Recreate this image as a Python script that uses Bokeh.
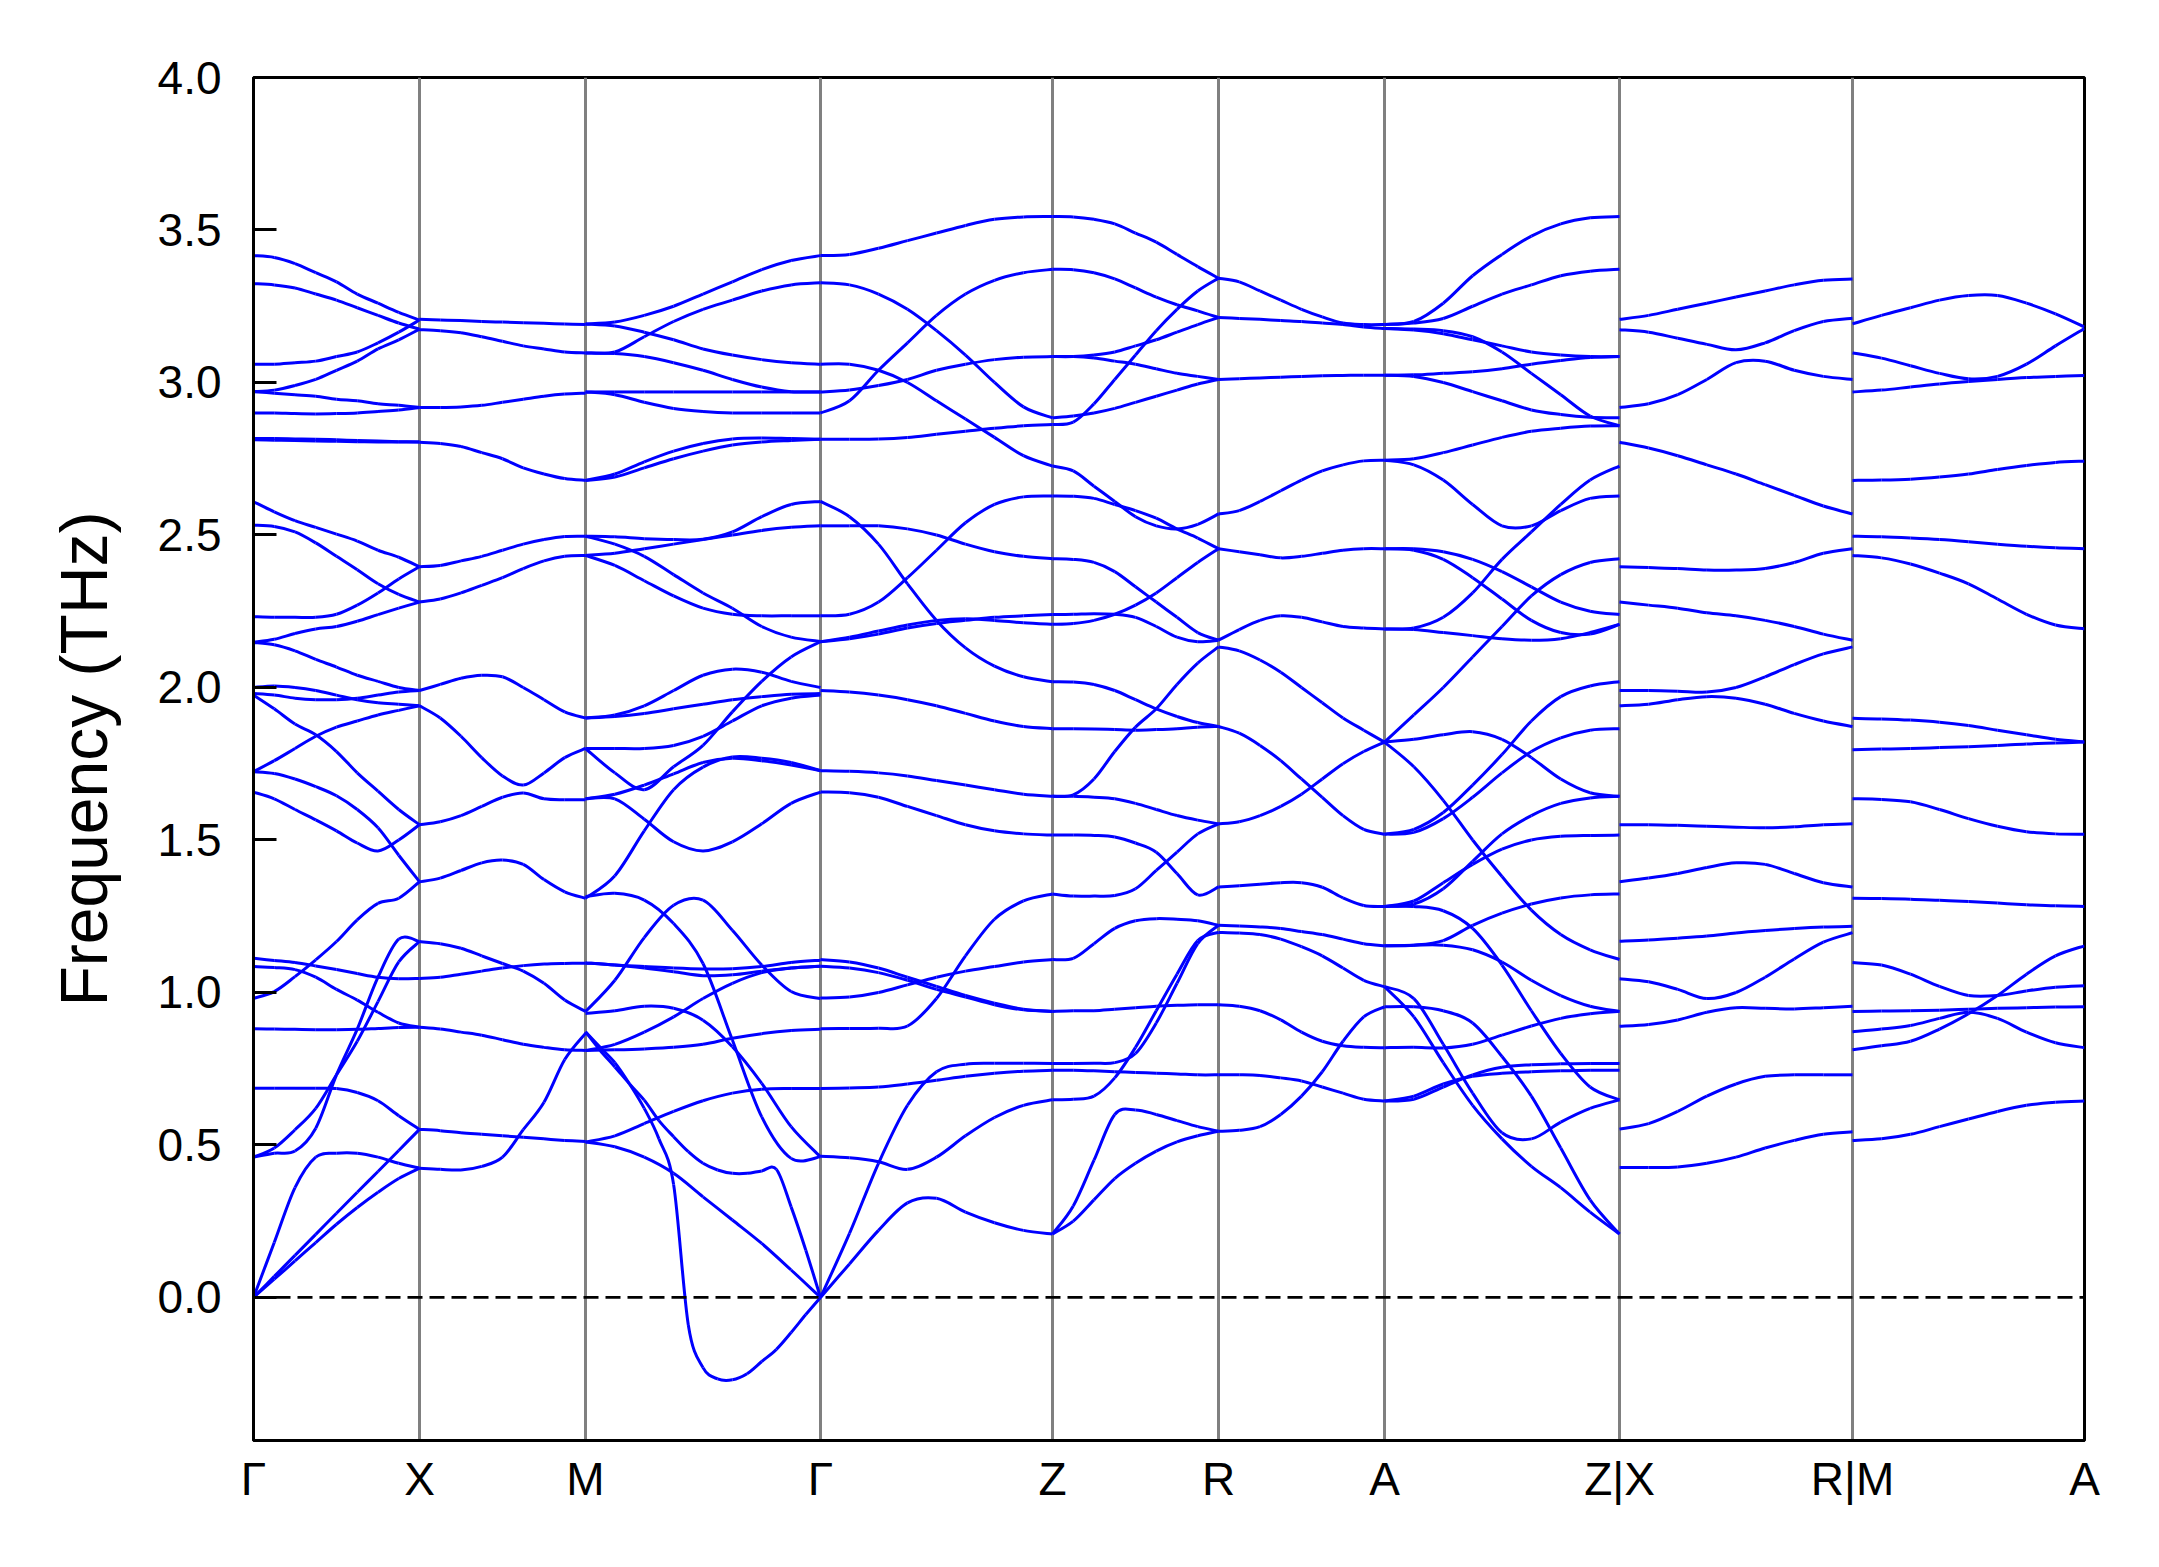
import numpy as np
from bokeh.plotting import figure
from bokeh.models import Range1d, FixedTicker, Span, PrintfTickFormatter, ColumnDataSource
from bokeh.embed import file_html
from bokeh.resources import INLINE

# High-symmetry path
kpoint_labels = ["Γ", "X", "M", "Γ", "Z", "R", "A", "Z|X", "R|M", "A"]
segment_lengths = [166, 166, 235, 232, 166, 166, 235, 233, 232]

# Phonon branches (THz), sampled uniformly along each path segment
bands_G_X = [
    [3.416, 3.41, 3.39, 3.36, 3.33, 3.29, 3.26, 3.23, 3.205],
    [3.324, 3.32, 3.31, 3.29, 3.27, 3.245, 3.22, 3.195, 3.175],
    [3.06, 3.06, 3.065, 3.07, 3.085, 3.10, 3.13, 3.165, 3.205],
    [2.97, 2.975, 2.99, 3.01, 3.04, 3.07, 3.11, 3.14, 3.175],
    [2.97, 2.965, 2.96, 2.955, 2.945, 2.94, 2.93, 2.925, 2.918],
    [2.90, 2.90, 2.898, 2.897, 2.898, 2.90, 2.905, 2.91, 2.918],
    [2.816, 2.816, 2.815, 2.814, 2.812, 2.81, 2.808, 2.806, 2.805],
    [2.812, 2.811, 2.81, 2.808, 2.807, 2.806, 2.805, 2.805, 2.805],
    [2.609, 2.576, 2.547, 2.525, 2.503, 2.48, 2.45, 2.427, 2.396],
    [2.532, 2.528, 2.51, 2.474, 2.43, 2.386, 2.34, 2.305, 2.28],
    [2.232, 2.23, 2.23, 2.23, 2.24, 2.27, 2.31, 2.356, 2.396],
    [2.148, 2.158, 2.177, 2.192, 2.20, 2.217, 2.239, 2.26, 2.28],
    [2.148, 2.14, 2.12, 2.092, 2.067, 2.04, 2.02, 2.0, 1.99],
    [2.0, 2.005, 2.0, 1.99, 1.975, 1.96, 1.95, 1.945, 1.94],
    [1.98, 1.975, 1.965, 1.96, 1.96, 1.965, 1.975, 1.985, 1.99],
    [1.975, 1.93, 1.88, 1.845, 1.79, 1.72, 1.66, 1.60, 1.55],
    [1.724, 1.76, 1.80, 1.84, 1.87, 1.89, 1.91, 1.925, 1.94],
    [1.724, 1.718, 1.70, 1.675, 1.645, 1.60, 1.54, 1.45, 1.363],
    [1.657, 1.635, 1.60, 1.566, 1.53, 1.49, 1.464, 1.50, 1.55],
    [0.981, 1.003, 1.052, 1.107, 1.167, 1.238, 1.292, 1.309, 1.363],
    [0.46, 0.473, 0.48, 0.555, 0.73, 0.88, 1.05, 1.175, 1.167],
    [0.46, 0.49, 0.55, 0.62, 0.73, 0.84, 0.97, 1.10, 1.167],
    [1.112, 1.105, 1.098, 1.087, 1.075, 1.062, 1.05, 1.045, 1.046],
    [1.085, 1.082, 1.075, 1.05, 1.01, 0.975, 0.935, 0.90, 0.886],
    [0.881, 0.88, 0.879, 0.878, 0.878, 0.879, 0.882, 0.885, 0.886],
    [0.686, 0.686, 0.686, 0.686, 0.685, 0.672, 0.645, 0.596, 0.551],
    [0.0, 0.18, 0.36, 0.46, 0.473, 0.473, 0.46, 0.44, 0.424],
    [0.0, 0.069, 0.138, 0.207, 0.276, 0.345, 0.413, 0.482, 0.551],
    [0.0, 0.06, 0.12, 0.18, 0.24, 0.295, 0.345, 0.39, 0.424],
]

bands_X_M = [
    [3.207, 3.205, 3.203, 3.20, 3.198, 3.196, 3.194, 3.192, 3.19],
    [3.173, 3.17, 3.163, 3.15, 3.135, 3.12, 3.11, 3.10, 3.097],
    [2.918, 2.918, 2.92, 2.925, 2.935, 2.945, 2.955, 2.962, 2.965],
    [2.804, 2.80, 2.79, 2.77, 2.75, 2.72, 2.70, 2.685, 2.679],
    [2.396, 2.40, 2.415, 2.43, 2.45, 2.47, 2.485, 2.495, 2.496],
    [2.28, 2.29, 2.31, 2.335, 2.36, 2.39, 2.415, 2.43, 2.433],
    [1.99, 2.01, 2.03, 2.04, 2.035, 2.0, 1.96, 1.92, 1.90],
    [1.94, 1.90, 1.84, 1.77, 1.71, 1.68, 1.72, 1.77, 1.80],
    [1.55, 1.56, 1.58, 1.61, 1.64, 1.654, 1.635, 1.632, 1.632],
    [1.363, 1.375, 1.40, 1.425, 1.434, 1.42, 1.37, 1.33, 1.309],
    [1.167, 1.16, 1.145, 1.12, 1.095, 1.07, 1.03, 0.975, 0.938],
    [1.046, 1.05, 1.06, 1.07, 1.08, 1.088, 1.093, 1.095, 1.096],
    [0.886, 0.88, 0.87, 0.86, 0.845, 0.83, 0.82, 0.812, 0.81],
    [0.551, 0.547, 0.54, 0.535, 0.53, 0.525, 0.52, 0.515, 0.511],
    [0.424, 0.42, 0.418, 0.43, 0.46, 0.55, 0.64, 0.78, 0.866],
]

bands_M_G = [
    [3.192, 3.198, 3.22, 3.25, 3.29, 3.33, 3.37, 3.40, 3.416],
    [3.192, 3.185, 3.165, 3.14, 3.11, 3.09, 3.075, 3.065, 3.06],
    [3.097, 3.10, 3.15, 3.20, 3.24, 3.27, 3.30, 3.32, 3.327],
    [3.097, 3.095, 3.085, 3.065, 3.04, 3.01, 2.985, 2.97, 2.969],
    [2.969, 2.969, 2.969, 2.969, 2.969, 2.969, 2.969, 2.969, 2.969],
    [2.969, 2.96, 2.935, 2.915, 2.905, 2.90, 2.90, 2.90, 2.90],
    [2.679, 2.70, 2.74, 2.775, 2.80, 2.815, 2.818, 2.816, 2.814],
    [2.679, 2.69, 2.72, 2.75, 2.775, 2.795, 2.805, 2.81, 2.814],
    [2.496, 2.494, 2.488, 2.485, 2.486, 2.51, 2.56, 2.60, 2.61],
    [2.433, 2.44, 2.455, 2.47, 2.485, 2.50, 2.515, 2.525, 2.53],
    [2.496, 2.47, 2.43, 2.37, 2.31, 2.26, 2.20, 2.165, 2.151],
    [2.433, 2.40, 2.35, 2.30, 2.26, 2.24, 2.235, 2.235, 2.235],
    [1.90, 1.91, 1.94, 1.99, 2.04, 2.06, 2.05, 2.02, 2.0],
    [1.90, 1.905, 1.915, 1.93, 1.945, 1.96, 1.97, 1.978, 1.98],
    [1.80, 1.80, 1.80, 1.81, 1.84, 1.89, 1.94, 1.965, 1.975],
    [1.80, 1.72, 1.665, 1.74, 1.81, 1.92, 2.02, 2.10, 2.15],
    [1.635, 1.635, 1.568, 1.494, 1.464, 1.494, 1.553, 1.62, 1.657],
    [1.635, 1.65, 1.68, 1.717, 1.754, 1.768, 1.76, 1.746, 1.727],
    [1.309, 1.383, 1.53, 1.665, 1.739, 1.772, 1.768, 1.754, 1.727],
    [1.314, 1.325, 1.303, 1.226, 1.095, 0.844, 0.592, 0.456, 0.461],
    [0.937, 1.04, 1.18, 1.286, 1.303, 1.204, 1.09, 1.003, 0.98],
    [0.931, 0.94, 0.955, 0.948, 0.909, 0.822, 0.702, 0.56, 0.461],
    [1.097, 1.09, 1.085, 1.08, 1.077, 1.078, 1.085, 1.098, 1.106],
    [1.097, 1.09, 1.08, 1.068, 1.055, 1.058, 1.07, 1.08, 1.086],
    [0.81, 0.83, 0.87, 0.92, 0.98, 1.03, 1.065, 1.08, 1.086],
    [0.81, 0.812, 0.815, 0.82, 0.83, 0.85, 0.865, 0.875, 0.879],
    [0.51, 0.53, 0.57, 0.61, 0.645, 0.67, 0.683, 0.685, 0.685],
    [0.51, 0.494, 0.46, 0.407, 0.33, 0.254, 0.177, 0.09, 0.0],
    [0.871, 0.81, 0.756, 0.70, 0.647, 0.58, 0.527, 0.478, 0.44,
     0.418, 0.407, 0.407, 0.415, 0.42, 0.297, 0.155, 0.0],
    [0.871, 0.82, 0.77, 0.70, 0.62, 0.52, 0.37, -0.09, -0.23,
     -0.267, -0.27, -0.25, -0.21, -0.17, -0.115, -0.056, 0.0],
]

bands_G_Z = [
    [3.416, 3.42, 3.44, 3.465, 3.49, 3.515, 3.535, 3.543, 3.544],
    [3.327, 3.32, 3.29, 3.24, 3.17, 3.09, 3.00, 2.92, 2.884],
    [3.06, 3.06, 3.04, 3.0, 2.94, 2.88, 2.82, 2.76, 2.726],
    [2.90, 2.94, 3.04, 3.13, 3.22, 3.29, 3.335, 3.36, 3.371],
    [2.969, 2.975, 2.99, 3.01, 3.04, 3.06, 3.075, 3.083, 3.085],
    [2.814, 2.814, 2.815, 2.82, 2.83, 2.84, 2.85, 2.858, 2.862],
    [2.61, 2.56, 2.47, 2.34, 2.22, 2.13, 2.07, 2.035, 2.019],
    [2.53, 2.53, 2.53, 2.52, 2.50, 2.47, 2.445, 2.43, 2.422],
    [2.235, 2.24, 2.28, 2.36, 2.45, 2.54, 2.60, 2.625, 2.628],
    [2.15, 2.16, 2.175, 2.195, 2.21, 2.22, 2.23, 2.235, 2.239],
    [2.15, 2.165, 2.185, 2.205, 2.22, 2.225, 2.22, 2.212, 2.207],
    [1.99, 1.985, 1.975, 1.96, 1.94, 1.915, 1.89, 1.872, 1.865],
    [1.727, 1.725, 1.72, 1.71, 1.695, 1.68, 1.665, 1.65, 1.643],
    [1.657, 1.655, 1.64, 1.61, 1.58, 1.55, 1.53, 1.52, 1.516],
    [1.108, 1.10, 1.08, 1.05, 1.02, 0.99, 0.965, 0.945, 0.938],
    [1.086, 1.08, 1.065, 1.04, 1.01, 0.985, 0.96, 0.943, 0.938],
    [0.982, 0.985, 1.0, 1.025, 1.05, 1.07, 1.085, 1.10, 1.108],
    [0.881, 0.882, 0.883, 0.89, 0.98, 1.12, 1.24, 1.30, 1.323],
    [0.685, 0.687, 0.69, 0.70, 0.712, 0.725, 0.735, 0.742, 0.745],
    [0.0, 0.21, 0.44, 0.63, 0.74, 0.765, 0.768, 0.768, 0.767],
    [0.463, 0.458, 0.445, 0.42, 0.46, 0.53, 0.59, 0.63, 0.648],
    [0.0, 0.11, 0.22, 0.31, 0.325, 0.28, 0.245, 0.22, 0.208],
]

bands_Z_R = [
    [3.544, 3.543, 3.535, 3.52, 3.49, 3.46, 3.42, 3.38, 3.342],
    [3.371, 3.37, 3.36, 3.34, 3.31, 3.28, 3.255, 3.235, 3.213],
    [3.085, 3.085, 3.09, 3.10, 3.12, 3.14, 3.165, 3.19, 3.213],
    [3.085, 3.085, 3.08, 3.07, 3.06, 3.045, 3.03, 3.02, 3.01],
    [2.862, 2.87, 2.93, 3.01, 3.09, 3.17, 3.24, 3.30, 3.342],
    [2.884, 2.89, 2.90, 2.915, 2.935, 2.955, 2.975, 2.995, 3.01],
    [2.726, 2.71, 2.66, 2.61, 2.56, 2.53, 2.52, 2.535, 2.569],
    [2.628, 2.627, 2.62, 2.60, 2.58, 2.555, 2.52, 2.49, 2.455],
    [2.422, 2.42, 2.41, 2.38, 2.33, 2.28, 2.23, 2.18, 2.155],
    [2.239, 2.24, 2.242, 2.24, 2.23, 2.20, 2.165, 2.15, 2.155],
    [2.207, 2.21, 2.22, 2.24, 2.27, 2.31, 2.36, 2.41, 2.455],
    [2.019, 2.018, 2.01, 1.99, 1.96, 1.93, 1.905, 1.885, 1.872],
    [1.865, 1.865, 1.864, 1.862, 1.86, 1.862, 1.865, 1.87, 1.872],
    [1.643, 1.648, 1.70, 1.79, 1.87, 1.93, 2.01, 2.08, 2.133],
    [1.643, 1.643, 1.64, 1.635, 1.62, 1.60, 1.58, 1.565, 1.553],
    [1.516, 1.516, 1.515, 1.51, 1.49, 1.46, 1.39, 1.32, 1.346],
    [1.323, 1.316, 1.316, 1.318, 1.34, 1.40, 1.46, 1.52, 1.553],
    [1.108, 1.112, 1.16, 1.21, 1.235, 1.242, 1.24, 1.235, 1.22],
    [0.938, 0.94, 0.94, 0.945, 0.95, 0.955, 0.958, 0.96, 0.96],
    [0.767, 0.767, 0.768, 0.77, 0.80, 0.90, 1.03, 1.16, 1.22],
    [0.745, 0.745, 0.743, 0.74, 0.738, 0.735, 0.733, 0.73, 0.73],
    [0.648, 0.65, 0.66, 0.72, 0.82, 0.94, 1.06, 1.17, 1.197],
    [0.208, 0.30, 0.45, 0.60, 0.615, 0.60, 0.58, 0.56, 0.545],
    [0.208, 0.25, 0.32, 0.39, 0.44, 0.48, 0.51, 0.53, 0.545],
]

bands_R_A = [
    [3.342, 3.33, 3.30, 3.27, 3.24, 3.215, 3.195, 3.19, 3.19],
    [3.213, 3.21, 3.207, 3.203, 3.2, 3.195, 3.19, 3.182, 3.177],
    [3.01, 3.012, 3.015, 3.017, 3.02, 3.022, 3.023, 3.024, 3.024],
    [2.569, 2.58, 2.61, 2.645, 2.68, 2.71, 2.73, 2.743, 2.745],
    [2.455, 2.445, 2.435, 2.425, 2.43, 2.44, 2.45, 2.455, 2.455],
    [2.155, 2.19, 2.22, 2.235, 2.23, 2.215, 2.2, 2.195, 2.192],
    [2.133, 2.12, 2.09, 2.05, 2.0, 1.95, 1.9, 1.86, 1.821],
    [1.872, 1.85, 1.81, 1.76, 1.70, 1.64, 1.58, 1.535, 1.519],
    [1.553, 1.56, 1.58, 1.61, 1.65, 1.70, 1.75, 1.79, 1.821],
    [1.346, 1.35, 1.355, 1.36, 1.36, 1.345, 1.31, 1.285, 1.282],
    [1.22, 1.218, 1.215, 1.21, 1.20, 1.19, 1.175, 1.16, 1.153],
    [1.197, 1.195, 1.19, 1.175, 1.15, 1.12, 1.08, 1.04, 1.019],
    [0.96, 0.955, 0.94, 0.91, 0.87, 0.84, 0.825, 0.82, 0.819],
    [0.73, 0.73, 0.728, 0.72, 0.71, 0.69, 0.67, 0.65, 0.644],
    [0.545, 0.548, 0.56, 0.60, 0.66, 0.74, 0.84, 0.92, 0.953],
]

bands_A_Z = [
    [3.19, 3.20, 3.26, 3.35, 3.42, 3.48, 3.52, 3.54, 3.544],
    [3.19, 3.195, 3.21, 3.25, 3.29, 3.32, 3.35, 3.365, 3.371],
    [3.177, 3.172, 3.16, 3.14, 3.12, 3.10, 3.09, 3.085, 3.085],
    [3.177, 3.175, 3.17, 3.15, 3.10, 3.03, 2.96, 2.89, 2.858],
    [3.024, 3.025, 3.03, 3.035, 3.045, 3.06, 3.072, 3.082, 3.085],
    [3.024, 3.02, 3.0, 2.97, 2.94, 2.91, 2.895, 2.886, 2.884],
    [2.745, 2.75, 2.77, 2.795, 2.82, 2.84, 2.85, 2.857, 2.858],
    [2.745, 2.73, 2.68, 2.60, 2.53, 2.53, 2.58, 2.62, 2.628],
    [2.192, 2.195, 2.23, 2.31, 2.42, 2.51, 2.60, 2.68, 2.726],
    [2.455, 2.455, 2.445, 2.42, 2.38, 2.33, 2.28, 2.25, 2.239],
    [2.455, 2.45, 2.42, 2.36, 2.29, 2.22, 2.18, 2.175, 2.207],
    [2.192, 2.19, 2.18, 2.17, 2.16, 2.155, 2.16, 2.18, 2.207],
    [1.821, 1.91, 2.0, 2.10, 2.20, 2.30, 2.37, 2.41, 2.422],
    [1.821, 1.83, 1.845, 1.855, 1.83, 1.77, 1.70, 1.655, 1.643],
    [1.821, 1.74, 1.63, 1.50, 1.38, 1.27, 1.19, 1.14, 1.108],
    [1.519, 1.525, 1.57, 1.64, 1.72, 1.79, 1.835, 1.86, 1.865],
    [1.519, 1.535, 1.59, 1.68, 1.78, 1.89, 1.97, 2.005, 2.019],
    [1.282, 1.30, 1.36, 1.42, 1.47, 1.50, 1.512, 1.515, 1.516],
    [1.282, 1.29, 1.34, 1.43, 1.52, 1.58, 1.62, 1.638, 1.643],
    [1.282, 1.282, 1.268, 1.21, 1.09, 0.94, 0.80, 0.69, 0.648],
    [1.153, 1.155, 1.17, 1.22, 1.26, 1.29, 1.31, 1.32, 1.323],
    [1.153, 1.155, 1.155, 1.14, 1.10, 1.04, 0.99, 0.955, 0.938],
    [1.019, 0.98, 0.83, 0.67, 0.54, 0.52, 0.575, 0.62, 0.648],
    [1.019, 0.92, 0.77, 0.63, 0.52, 0.43, 0.36, 0.28, 0.208],
    [0.953, 0.953, 0.94, 0.90, 0.79, 0.66, 0.49, 0.32, 0.208],
    [0.819, 0.82, 0.818, 0.83, 0.86, 0.89, 0.915, 0.93, 0.938],
    [0.644, 0.65, 0.69, 0.73, 0.755, 0.763, 0.766, 0.767, 0.767],
    [0.644, 0.66, 0.70, 0.725, 0.735, 0.74, 0.743, 0.745, 0.745],
]

bands_X_R = [
    [3.207, 3.22, 3.24, 3.26, 3.28, 3.30, 3.32, 3.335, 3.339],
    [3.173, 3.165, 3.145, 3.125, 3.107, 3.13, 3.17, 3.20, 3.211],
    [2.918, 2.93, 2.96, 3.01, 3.065, 3.07, 3.04, 3.02, 3.01],
    [2.804, 2.785, 2.76, 2.73, 2.70, 2.665, 2.63, 2.595, 2.569],
    [2.396, 2.393, 2.39, 2.385, 2.385, 2.39, 2.41, 2.44, 2.455],
    [2.28, 2.27, 2.26, 2.245, 2.235, 2.22, 2.20, 2.175, 2.155],
    [1.99, 1.99, 1.988, 1.985, 2.0, 2.035, 2.075, 2.11, 2.133],
    [1.94, 1.945, 1.96, 1.97, 1.965, 1.945, 1.915, 1.89, 1.872],
    [1.55, 1.55, 1.548, 1.545, 1.542, 1.54, 1.543, 1.55, 1.553],
    [1.363, 1.375, 1.39, 1.41, 1.425, 1.42, 1.39, 1.36, 1.346],
    [1.168, 1.172, 1.178, 1.185, 1.195, 1.203, 1.21, 1.215, 1.217],
    [1.045, 1.035, 1.01, 0.98, 1.0, 1.05, 1.11, 1.165, 1.196],
    [0.889, 0.895, 0.91, 0.935, 0.95, 0.948, 0.946, 0.95, 0.955],
    [0.552, 0.57, 0.61, 0.66, 0.70, 0.725, 0.73, 0.73, 0.73],
    [0.426, 0.426, 0.428, 0.44, 0.46, 0.49, 0.515, 0.535, 0.543],
]

bands_M_A = [
    [3.192, 3.22, 3.245, 3.27, 3.285, 3.285, 3.26, 3.225, 3.182],
    [3.097, 3.08, 3.055, 3.03, 3.012, 3.02, 3.06, 3.12, 3.177],
    [2.969, 2.975, 2.985, 2.995, 3.003, 3.01, 3.016, 3.02, 3.023],
    [2.679, 2.68, 2.683, 2.69, 2.70, 2.715, 2.728, 2.738, 2.742],
    [2.496, 2.494, 2.49, 2.485, 2.478, 2.47, 2.463, 2.458, 2.455],
    [2.433, 2.425, 2.405, 2.375, 2.34, 2.29, 2.24, 2.205, 2.192],
    [1.899, 1.897, 1.893, 1.886, 1.875, 1.86, 1.845, 1.83, 1.821],
    [1.796, 1.798, 1.80, 1.803, 1.806, 1.81, 1.815, 1.818, 1.821],
    [1.635, 1.633, 1.625, 1.60, 1.57, 1.545, 1.527, 1.52, 1.519],
    [1.309, 1.308, 1.306, 1.302, 1.298, 1.293, 1.288, 1.284, 1.282],
    [1.098, 1.09, 1.06, 1.02, 0.99, 0.99, 1.005, 1.017, 1.022],
    [0.938, 0.939, 0.94, 0.942, 0.945, 0.948, 0.95, 0.952, 0.953],
    [0.871, 0.88, 0.892, 0.915, 0.935, 0.915, 0.87, 0.835, 0.819],
    [0.812, 0.825, 0.84, 0.88, 0.93, 0.99, 1.06, 1.12, 1.153],
    [0.515, 0.52, 0.535, 0.56, 0.585, 0.61, 0.63, 0.64, 0.644],
]

segments = [bands_G_X, bands_X_M, bands_M_G, bands_G_Z, bands_Z_R,
            bands_R_A, bands_A_Z, bands_X_R, bands_M_A]

y_ticks = [0.0, 0.5, 1.0, 1.5, 2.0, 2.5, 3.0, 3.5, 4.0]

# ---------------------------------------------------------------------------
kpos = [0]
for L in segment_lengths:
    kpos.append(kpos[-1] + L)

# Each branch is drawn as a smooth cubic curve passing through its read points
cols = {k: [] for k in ("x0", "y0", "x1", "y1", "cx0", "cy0", "cx1", "cy1")}
for i, seg in enumerate(segments):
    a, b = kpos[i], kpos[i + 1]
    for curve in seg:
        xs = [float(v) for v in np.linspace(a, b, len(curve))]
        ys = [float(v) for v in curve]
        px = [xs[0]] + xs + [xs[-1]]
        py = [ys[0]] + ys + [ys[-1]]
        for j in range(len(xs) - 1):
            cols["x0"].append(px[j + 1]); cols["y0"].append(py[j + 1])
            cols["x1"].append(px[j + 2]); cols["y1"].append(py[j + 2])
            cols["cx0"].append(px[j + 1] + (px[j + 2] - px[j]) / 6.0)
            cols["cy0"].append(py[j + 1] + (py[j + 2] - py[j]) / 6.0)
            cols["cx1"].append(px[j + 2] - (px[j + 3] - px[j + 1]) / 6.0)
            cols["cy1"].append(py[j + 2] - (py[j + 3] - py[j + 1]) / 6.0)
src = ColumnDataSource(cols)

FONT = "Liberation Sans"
Y_MIN, Y_MAX = -0.469, 4.0

p = figure(frame_width=1831, frame_height=1363,
           x_range=Range1d(kpos[0], kpos[-1]), y_range=Range1d(Y_MIN, Y_MAX),
           output_backend="svg", toolbar_location=None,
           min_border_left=253, min_border_right=59,
           min_border_top=77, min_border_bottom=111,
           background_fill_color="white", border_fill_color="white")

p.xgrid.visible = False
p.ygrid.visible = False
p.outline_line_color = "black"
p.outline_line_width = 3

for pos in kpos[1:-1]:
    p.add_layout(Span(location=pos, dimension="height", line_color="#808080",
                      line_width=3, level="underlay"))

p.bezier(x0="x0", y0="y0", x1="x1", y1="y1", cx0="cx0", cy0="cy0",
         cx1="cx1", cy1="cy1", source=src, line_color="#0000ff", line_width=3)

p.add_layout(Span(location=0.0, dimension="width", line_color="black",
                  line_width=2.8, line_dash="15 7"))

# x axis
p.xaxis.ticker = FixedTicker(ticks=[float(k) for k in kpos])
p.xaxis.major_label_overrides = {int(k): lab for k, lab in zip(kpos, kpoint_labels)}
p.xaxis.major_tick_in = 0
p.xaxis.major_tick_out = 0
p.xaxis.minor_tick_in = 0
p.xaxis.minor_tick_out = 0
p.xaxis.major_label_standoff = 12
p.xaxis.axis_line_width = 3
p.xaxis.major_label_text_font = FONT
p.xaxis.major_label_text_font_size = "46px"
p.xaxis.major_label_text_color = "black"

# y axis
p.yaxis.ticker = FixedTicker(ticks=y_ticks)
p.yaxis.formatter = PrintfTickFormatter(format="%.1f")
p.yaxis.major_tick_in = 23
p.yaxis.major_tick_out = 0
p.yaxis.minor_tick_in = 0
p.yaxis.minor_tick_out = 0
p.yaxis.major_tick_line_width = 3
p.yaxis.axis_line_width = 3
p.yaxis.major_label_standoff = 32
p.yaxis.major_label_text_font = FONT
p.yaxis.major_label_text_font_size = "46px"
p.yaxis.major_label_text_color = "black"
p.yaxis.axis_label = "Frequency (THz)"
p.yaxis.axis_label_text_font = FONT
p.yaxis.axis_label_text_font_size = "66px"
p.yaxis.axis_label_text_font_style = "normal"
p.yaxis.axis_label_text_color = "black"
p.yaxis.axis_label_standoff = 34

open("out.html", "w").write(file_html(p, INLINE))
